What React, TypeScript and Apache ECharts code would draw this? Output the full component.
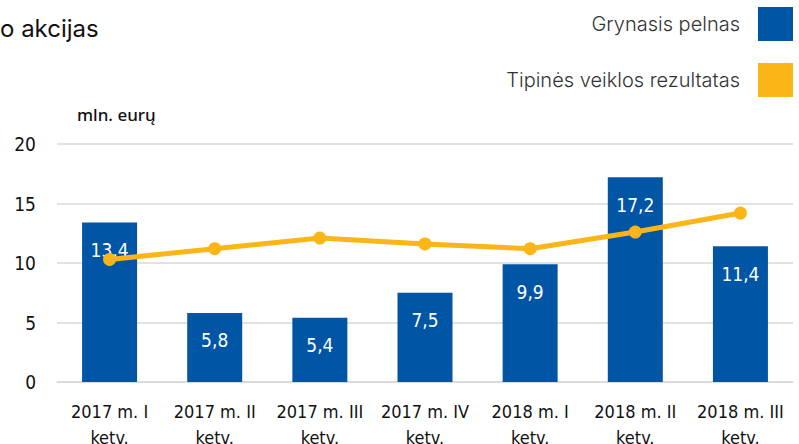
import React, { useEffect, useRef } from "react";
import * as echarts from "echarts";

const categories = [
  "2017 m. I\nketv.",
  "2017 m. II\nketv.",
  "2017 m. III\nketv.",
  "2017 m. IV\nketv.",
  "2018 m. I\nketv.",
  "2018 m. II\nketv.",
  "2018 m. III\nketv.",
];
const netProfit = [13.4, 5.8, 5.4, 7.5, 9.9, 17.2, 11.4];
const operatingResult = [10.3, 11.2, 12.1, 11.6, 11.2, 12.6, 14.2];
const yTicks = { min: 0, max: 20, interval: 5 };

const narrow = "'DejaVu Sans Condensed', 'Roboto', sans-serif";

export default function App() {
  const ref = useRef<HTMLDivElement>(null);
  useEffect(() => {
    if (!ref.current) return;
    const chart = echarts.init(ref.current, null, { renderer: "svg" });
    chart.setOption({
      animation: false,
      backgroundColor: "#ffffff",
      grid: {
        left: 57,
        right: 6,
        top: 144,
        bottom: 62,
        containLabel: false,
        outerBoundsMode: "none",
      },
      graphic: [
        {
          type: "text",
          left: 0,
          top: 16,
          style: { text: "o akcijas", font: "24px Inter, 'Noto Sans', sans-serif", fill: "#111" },
        },
        {
          type: "text",
          left: 77,
          top: 106,
          style: { text: "mln. eurų", font: "500 17px 'Noto Sans', sans-serif", fill: "#111" },
        },
      ],
      legend: {
        orient: "vertical",
        right: 6,
        top: 7,
        padding: 0,
        align: "right",
        itemWidth: 35,
        itemHeight: 34,
        itemGap: 22,
        icon: "rect",
        textStyle: {
          fontFamily: "Inter, 'Noto Sans', sans-serif",
          fontSize: 20,
          fontWeight: 300,
          color: "#333",
          padding: [0, 13, 0, 0],
        },
        data: [
          { name: "Grynasis pelnas", icon: "rect" },
          { name: "Tipinės veiklos rezultatas", icon: "rect" },
        ],
      },
      xAxis: {
        type: "category",
        data: categories,
        axisLine: { show: true, lineStyle: { color: "#d9d9d9", width: 1.5 } },
        axisTick: { show: false },
        axisLabel: {
          color: "#111",
          fontFamily: narrow,
          fontSize: 18,
          lineHeight: 26,
          margin: 16,
          interval: 0,
          hideOverlap: false,
        },
      },
      yAxis: {
        type: "value",
        min: yTicks.min,
        max: yTicks.max,
        interval: yTicks.interval,
        axisLine: { show: false },
        axisTick: { show: false },
        splitLine: { lineStyle: { color: "#d9d9d9", width: 1.5 } },
        axisLabel: { color: "#111", fontFamily: narrow, fontSize: 19, margin: 21 },
      },
      series: [
        {
          name: "Grynasis pelnas",
          type: "bar",
          data: netProfit,
          barWidth: 55,
          itemStyle: { color: "#0155A5" },
          label: {
            show: true,
            position: "insideTop",
            distance: 18,
            color: "#fff",
            fontFamily: narrow,
            fontSize: 19,
            formatter: (p: any) => String(p.value).replace(".", ","),
          },
          z: 1,
        },
        {
          name: "Tipinės veiklos rezultatas",
          type: "line",
          data: operatingResult,
          symbol: "circle",
          symbolSize: 13,
          lineStyle: { color: "#FBB516", width: 5 },
          itemStyle: { color: "#FBB516" },
          z: 3,
        },
      ],
    });
    return () => chart.dispose();
  }, []);
  return (
    <div
      ref={ref}
      style={{ width: 799, height: 444, position: "fixed", left: 0, top: 0 }}
    />
  );
}
